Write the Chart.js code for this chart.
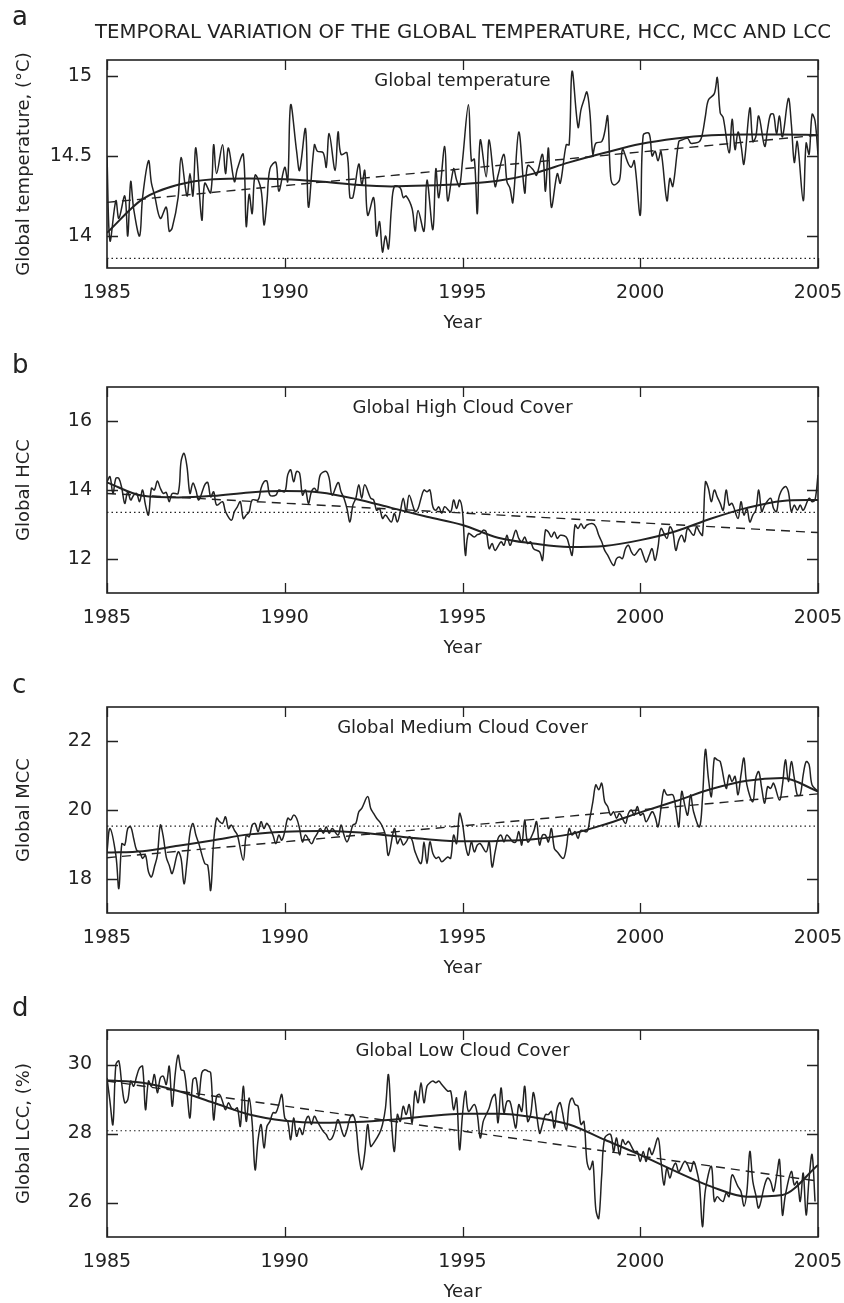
<!DOCTYPE html>
<html>
<head>
<meta charset="utf-8">
<script src="https://cdn.jsdelivr.net/npm/chart.js@4.4.1/dist/chart.umd.min.js"></script>
<style>
  html, body { margin: 0; padding: 0; background: #fff; }
  #page { position: relative; width: 844px; height: 1303px; overflow: hidden; background: #fff; }
  .panel { position: absolute; left: 0; width: 844px; }
</style>
</head>
<body>
<div id="page"></div>
<script>
// ---------------------------------------------------------------------------
// Data: monthly series as [months since Jan 1985, value]
// ---------------------------------------------------------------------------
const yearTicks = [1985, 1990, 1995, 2000, 2005];
const fitYears = [1985, 1986, 1987, 1988, 1989, 1990, 1991, 1992, 1993, 1994, 1995,
                  1996, 1997, 1998, 1999, 2000, 2001, 2002, 2003, 2004, 2005];

// Global temperature (°C)
const tempSeries = [
  [0,14.50],[1,13.97],[3,14.22],[4,14.11],[6,14.25],[7,14.00],[8,14.34],[9,14.17],[11,14.00],[12,14.24],
  [14,14.47],[15,14.33],[16,14.26],[18,14.11],[20,14.18],[21,14.03],[22,14.05],[24,14.24],[25,14.49],[27,14.25],
  [28,14.39],[29,14.25],[30,14.55],[32,14.10],[33,14.33],[35,14.27],[36,14.57],[37,14.39],[39,14.57],[40,14.39],
  [41,14.55],[43,14.34],[44,14.42],[46,14.51],[47,14.06],[48,14.26],[49,14.14],[50,14.38],[52,14.29],[53,14.07],
  [54,14.22],[55,14.42],[57,14.46],[58,14.28],[60,14.43],[61,14.34],[62,14.82],[64,14.53],[65,14.41],[67,14.67],
  [68,14.18],[70,14.57],[71,14.53],[73,14.52],[74,14.43],[75,14.64],[77,14.41],[78,14.65],[79,14.51],[81,14.52],
  [82,14.24],[83,14.24],[85,14.45],[86,14.32],[87,14.41],[88,14.13],[90,14.24],[91,14.00],[92,14.09],[93,13.90],
  [94,14.00],[95,13.92],[96,14.17],[97,14.31],[99,14.30],[100,14.24],[101,14.25],[103,14.17],[104,14.03],[105,14.16],
  [107,14.03],[108,14.35],[110,14.04],[111,14.42],[112,14.24],[114,14.56],[115,14.22],[117,14.42],[118,14.35],[119,14.31],
  [120,14.47],[122,14.82],[123,14.47],[124,14.48],[125,14.14],[126,14.60],[128,14.37],[129,14.60],[131,14.31],[132,14.38],
  [134,14.51],[135,14.34],[136,14.30],[137,14.21],[139,14.65],[141,14.27],[142,14.44],[144,14.41],[145,14.38],[147,14.51],
  [148,14.28],[149,14.55],[150,14.18],[152,14.39],[153,14.33],[155,14.57],[156,14.57],[157,15.03],[159,14.68],[160,14.79],
  [161,14.85],[162,14.90],[163,14.77],[164,14.51],[165,14.58],[167,14.59],[168,14.65],[169,14.75],[170,14.37],[171,14.32],
  [173,14.35],[174,14.54],[176,14.45],[177,14.43],[178,14.47],[180,14.13],[181,14.63],[183,14.64],[184,14.50],[185,14.53],
  [186,14.47],[187,14.53],[189,14.22],[190,14.36],[191,14.31],[193,14.59],[194,14.60],[196,14.61],[197,14.58],[198,14.58],
  [200,14.59],[201,14.64],[202,14.75],[203,14.85],[205,14.89],[206,14.99],[207,14.77],[208,14.74],[210,14.52],[211,14.73],
  [212,14.54],[213,14.65],[214,14.57],[215,14.45],[217,14.80],[218,14.59],[219,14.62],[220,14.75],[222,14.56],[223,14.67],
  [224,14.76],[225,14.76],[226,14.64],[227,14.75],[228,14.62],[230,14.86],[231,14.70],[232,14.46],[233,14.59],[235,14.22],
  [236,14.58],[237,14.51],[238,14.76],[239,14.72],[240,14.51]
];
const tempFit = [14.02, 14.23, 14.32, 14.355, 14.36, 14.355, 14.34, 14.32, 14.31, 14.315, 14.325,
                 14.345, 14.39, 14.46, 14.52, 14.575, 14.61, 14.63, 14.635, 14.635, 14.63];
const tempTrend = [14.21, 14.63];
const tempMean = 13.86;
const tempTicks = [14, 14.5, 15];

// Global high cloud cover (%)
const hccSeries = [
  [0,14.24],[1,14.39],[2,13.90],[3,14.34],[4,14.34],[5,14.05],[6,13.61],[7,13.95],[8,13.71],[9,13.85],
  [10,13.90],[11,13.66],[12,14.00],[13,13.56],[14,13.27],[15,14.05],[16,14.00],[17,14.26],[18,14.05],[19,13.90],
  [20,13.93],[21,13.66],[22,13.90],[24,13.90],[25,14.83],[26,15.07],[27,14.68],[28,13.90],[29,14.20],[30,14.00],
  [31,13.71],[33,14.15],[34,14.22],[35,13.80],[36,13.95],[37,13.56],[39,13.66],[40,13.37],[42,13.12],[43,13.37],
  [44,13.51],[45,13.66],[46,13.17],[47,13.27],[48,13.37],[49,13.71],[51,13.71],[52,14.05],[53,14.24],[54,14.26],
  [55,13.85],[57,13.85],[58,14.00],[60,13.95],[61,14.44],[62,14.59],[63,14.24],[64,14.54],[65,14.49],[66,13.85],
  [67,14.00],[68,13.61],[69,13.95],[70,14.05],[71,13.95],[72,14.44],[74,14.54],[75,14.34],[76,13.85],[78,14.22],
  [79,13.95],[80,13.76],[81,13.46],[82,13.07],[83,13.56],[84,13.76],[85,14.15],[86,13.76],[87,14.15],[89,13.76],
  [90,13.71],[91,13.41],[92,13.46],[93,13.17],[94,13.27],[96,13.07],[97,13.32],[98,13.07],[99,13.37],[100,13.76],
  [101,13.37],[102,13.85],[104,13.37],[105,13.46],[106,13.76],[107,14.00],[108,13.95],[109,14.00],[110,13.51],[111,13.41],
  [112,13.51],[113,13.32],[114,13.51],[116,13.37],[117,13.71],[118,13.46],[119,13.71],[120,13.37],[121,12.10],[122,12.73],
  [124,12.63],[125,12.70],[126,12.73],[127,12.83],[128,12.78],[129,12.29],[130,12.44],[131,12.24],[133,12.49],[134,12.39],
  [135,12.68],[136,12.39],[137,12.59],[138,12.83],[139,12.59],[140,12.49],[141,12.63],[142,12.44],[143,12.49],[144,12.29],
  [146,12.20],[147,11.95],[148,12.83],[149,12.78],[150,12.63],[151,12.78],[152,12.59],[153,12.68],[155,12.63],[156,12.39],
  [157,12.10],[158,12.98],[159,12.88],[160,13.02],[161,12.88],[162,12.98],[164,13.02],[165,12.93],[166,12.68],[167,12.49],
  [168,12.24],[169,12.10],[171,11.80],[172,12.00],[173,12.05],[174,12.00],[175,12.29],[176,12.39],[177,12.20],[178,12.10],
  [180,12.29],[181,12.10],[182,11.90],[183,12.10],[184,12.29],[185,11.95],[186,12.34],[187,12.88],[189,12.59],[190,12.93],
  [191,12.78],[192,12.24],[193,12.54],[194,12.68],[195,12.49],[196,12.88],[198,12.68],[199,12.93],[200,12.78],[201,12.68],
  [202,14.24],[203,14.05],[204,13.66],[205,14.00],[206,13.80],[207,13.61],[208,13.41],[209,14.00],[210,13.56],[211,13.61],
  [213,13.17],[214,13.66],[215,13.27],[216,13.46],[217,13.07],[218,13.27],[219,13.41],[220,14.00],[221,13.37],[222,13.56],
  [224,13.76],[225,13.46],[226,13.37],[227,13.85],[229,14.10],[230,13.95],[231,13.37],[232,13.56],[233,13.41],[234,13.56],
  [235,13.41],[237,13.76],[238,13.66],[239,13.71],[240,14.44]
];
const hccFit = [14.22, 13.83, 13.78, 13.83, 13.93, 13.97, 13.93, 13.74, 13.48, 13.22, 12.98,
                12.61, 12.44, 12.34, 12.37, 12.54, 12.80, 13.17, 13.48, 13.68, 13.71];
const hccTrend = [13.90, 12.76];
const hccMean = 13.35;
const hccTicks = [12, 14, 16];

// Global medium cloud cover (%)
const mccSeries = [
  [0,18.78],[1,19.46],[3,18.68],[4,17.71],[5,19.02],[6,18.98],[7,19.46],[8,19.51],[9,19.17],[10,18.83],
  [11,18.78],[12,18.59],[13,18.68],[14,18.20],[15,18.05],[16,18.34],[17,18.68],[18,19.56],[19,19.22],[20,18.63],
  [21,18.39],[22,18.15],[24,18.78],[25,18.59],[26,17.85],[27,18.49],[28,19.32],[29,19.61],[30,19.27],[31,19.02],
  [33,18.44],[34,18.39],[35,17.66],[36,19.07],[37,19.76],[38,19.66],[39,19.61],[40,19.80],[41,19.46],[42,19.56],
  [43,19.41],[44,19.27],[46,18.54],[47,19.27],[48,19.22],[49,19.56],[50,19.61],[51,19.37],[52,19.66],[53,19.46],
  [54,19.61],[56,19.27],[57,19.02],[58,19.27],[59,19.12],[60,19.37],[61,19.76],[62,19.71],[63,19.85],[64,19.76],
  [65,19.46],[66,19.07],[67,19.27],[69,19.02],[70,19.17],[71,19.32],[72,19.46],[73,19.32],[74,19.51],[75,19.32],
  [76,19.46],[78,19.27],[79,19.56],[80,19.27],[81,19.07],[82,19.27],[83,19.56],[84,19.61],[85,19.95],[86,20.05],
  [88,20.39],[89,20.05],[90,19.90],[91,19.76],[92,19.66],[93,19.51],[94,19.27],[95,18.68],[97,19.46],[98,19.02],
  [99,19.17],[100,18.98],[101,19.07],[102,19.22],[103,19.12],[104,18.78],[106,18.44],[107,19.07],[108,18.44],[109,19.07],
  [110,18.73],[111,18.59],[112,18.63],[113,18.49],[115,18.63],[116,18.59],[117,19.27],[118,19.02],[119,19.90],[120,19.60],
  [121,18.98],[122,18.68],[123,19.07],[124,18.78],[125,18.98],[126,19.02],[128,18.78],[129,19.07],[130,18.34],[131,18.78],
  [132,19.17],[133,19.27],[134,19.07],[135,19.27],[137,19.07],[138,19.07],[139,19.37],[140,18.98],[141,19.71],[142,19.07],
  [144,19.37],[145,19.66],[146,18.98],[147,19.27],[148,19.27],[149,19.07],[150,19.46],[151,18.88],[152,18.78],[154,18.59],
  [155,18.88],[156,19.46],[157,19.27],[158,19.37],[159,19.17],[160,19.41],[162,19.37],[163,19.76],[164,20.24],[165,20.73],
  [166,20.59],[167,20.78],[168,20.24],[169,20.10],[170,19.85],[171,19.95],[172,19.76],[173,19.90],[175,19.61],[176,19.90],
  [177,20.00],[178,19.85],[179,20.10],[180,19.85],[181,19.90],[182,19.66],[184,19.95],[185,19.80],[186,19.51],[187,20.05],
  [188,20.59],[189,20.44],[191,20.44],[192,20.05],[193,19.51],[194,20.54],[195,20.15],[196,19.85],[197,20.44],[198,19.95],
  [200,19.51],[201,20.34],[202,21.76],[203,20.93],[204,20.39],[205,21.51],[206,21.46],[207,21.41],[209,20.63],[210,21.02],
  [211,20.83],[212,20.98],[213,20.44],[214,21.02],[215,21.51],[216,20.73],[218,20.24],[219,20.93],[220,21.12],[221,20.63],
  [222,20.20],[223,20.68],[224,20.63],[225,20.78],[227,20.29],[228,20.73],[229,21.46],[230,20.83],[231,21.41],[232,20.93],
  [233,20.44],[234,20.44],[235,21.02],[236,21.41],[237,21.32],[238,20.73],[240,20.54]
];
const mccFit = [18.76, 18.80, 18.96, 19.12, 19.29, 19.37, 19.39, 19.35, 19.25, 19.15, 19.09,
                19.10, 19.15, 19.29, 19.58, 19.93, 20.26, 20.61, 20.85, 20.93, 20.54];
const mccTrend = [18.61, 20.47];
const mccMean = 19.53;
const mccTicks = [18, 20, 22];

// Global low cloud cover (%)
const lccSeries = [
  [0,29.61],[1,28.93],[2,28.26],[3,30.00],[4,30.10],[5,29.42],[6,28.89],[7,28.98],[8,29.52],[9,29.37],
  [10,29.66],[11,29.90],[12,29.95],[13,28.69],[14,29.52],[15,29.37],[16,29.71],[17,29.18],[18,29.61],[19,29.66],
  [20,29.42],[21,29.95],[22,28.79],[23,29.71],[24,30.27],[25,29.85],[26,29.81],[27,29.18],[28,28.45],[29,29.56],
  [30,29.61],[31,29.08],[32,29.76],[33,29.85],[34,29.81],[35,29.76],[36,28.40],[37,29.08],[38,29.13],[39,28.93],
  [40,28.69],[41,28.89],[42,28.74],[43,28.69],[44,28.74],[45,28.21],[46,29.37],[47,28.35],[48,29.03],[49,28.31],
  [50,26.95],[51,27.82],[52,28.26],[53,27.58],[54,28.21],[55,28.35],[56,28.60],[57,28.60],[58,28.84],[59,29.13],
  [60,28.45],[61,28.35],[62,27.82],[63,28.45],[64,27.92],[65,28.16],[66,27.97],[67,28.35],[68,28.50],[69,28.26],
  [70,28.50],[71,28.35],[73,28.06],[74,27.97],[75,27.82],[76,27.87],[77,28.11],[78,28.40],[80,27.92],[81,28.11],
  [82,28.45],[83,28.55],[84,28.26],[85,27.38],[86,26.95],[87,27.43],[88,28.26],[89,27.63],[90,27.72],[92,28.01],
  [93,28.26],[94,28.74],[95,29.71],[96,28.35],[97,27.48],[98,28.55],[99,28.35],[100,28.79],[101,28.55],[102,28.84],
  [103,28.31],[104,29.23],[105,28.89],[106,29.47],[107,28.89],[108,29.37],[109,29.47],[110,29.52],[111,29.47],[112,29.52],
  [113,29.42],[115,29.23],[116,29.23],[117,28.69],[118,29.03],[119,27.53],[120,28.55],[121,29.23],[122,28.64],[124,28.84],
  [125,28.55],[126,27.87],[127,28.35],[128,28.55],[129,28.74],[130,29.03],[131,29.13],[132,28.31],[133,29.32],[134,28.60],
  [135,28.93],[136,28.93],[137,28.55],[138,28.16],[139,28.84],[140,28.64],[141,29.37],[142,28.35],[143,28.55],[144,29.18],
  [146,28.01],[147,28.26],[148,28.55],[149,28.55],[150,28.64],[151,28.16],[152,28.74],[153,28.89],[155,28.11],[156,28.84],
  [157,29.03],[158,28.84],[159,28.79],[160,28.26],[161,28.35],[162,27.19],[163,26.95],[164,27.19],[165,25.80],[166,25.54],
  [167,26.80],[168,27.87],[170,27.97],[171,27.48],[172,27.87],[173,27.38],[174,27.82],[175,27.68],[176,27.77],[178,27.48],
  [179,27.48],[180,27.19],[181,27.48],[182,27.19],[183,27.58],[184,27.39],[186,27.87],[187,27.19],[188,26.51],[189,27.00],
  [190,26.71],[191,27.00],[192,27.14],[193,26.90],[195,27.19],[196,27.09],[197,26.90],[198,27.19],[199,26.95],[200,26.51],
  [201,25.30],[202,26.37],[204,27.05],[205,26.03],[206,26.17],[207,26.08],[208,26.03],[209,26.27],[210,26.17],[211,26.80],
  [213,26.46],[214,26.32],[215,25.89],[216,26.32],[217,27.48],[218,26.61],[219,26.22],[220,25.84],[222,26.51],[223,26.71],
  [224,26.61],[225,26.32],[226,26.75],[227,27.24],[228,25.64],[229,26.22],[231,26.90],[232,26.51],[233,26.61],[234,26.03],
  [235,26.85],[236,25.64],[237,26.71],[238,27.39],[239,26.03]
];
const lccFit = [29.54, 29.47, 29.23, 28.89, 28.55, 28.37, 28.31, 28.33, 28.40, 28.50, 28.57,
                28.57, 28.47, 28.26, 27.82, 27.38, 26.90, 26.46, 26.17, 26.22, 27.09];
const lccTrend = [29.52, 26.62];
const lccMean = 28.08;
const lccTicks = [26, 28, 30];

const heading = 'TEMPORAL VARIATION OF THE GLOBAL TEMPERATURE, HCC, MCC AND LCC';

// ---------------------------------------------------------------------------
// Panel definitions (text + data), then layout
// ---------------------------------------------------------------------------
const panels = [
  { letter: 'a', name: 'Global temperature', yTitle: 'Global temperature, (°C)',
    series: tempSeries, fit: tempFit, trend: tempTrend, mean: tempMean, ticks: tempTicks, min: 13.8, max: 15.1 },
  { letter: 'b', name: 'Global High Cloud Cover', yTitle: 'Global HCC',
    series: hccSeries, fit: hccFit, trend: hccTrend, mean: hccMean, ticks: hccTicks, min: 11, max: 17 },
  { letter: 'c', name: 'Global Medium Cloud Cover', yTitle: 'Global MCC',
    series: mccSeries, fit: mccFit, trend: mccTrend, mean: mccMean, ticks: mccTicks, min: 17, max: 23 },
  { letter: 'd', name: 'Global Low Cloud Cover', yTitle: 'Global LCC, (%)',
    series: lccSeries, fit: lccFit, trend: lccTrend, mean: lccMean, ticks: lccTicks, min: 25, max: 31 }
];

// canvas placement: [canvas top on page, canvas height, plot top inside canvas, plot bottom inside canvas]
const frames = [
  [0, 340, 60, 268],
  [330, 340, 57, 263],
  [650, 340, 57, 263],
  [960, 343, 70, 277]
];

const INK = '#222222';
const FAMILY = '"DejaVu Sans", "Liberation Sans", sans-serif';
const X_AXIS_H = 66;
const Y_AXIS_W = 107;
const RIGHT_PAD = 26;

Chart.defaults.font.family = FAMILY;
Chart.defaults.color = INK;

// Box around the plot, inward tick marks, panel letter, inner label, heading
const decor = {
  id: 'decor',
  afterDraw(chart, args, o) {
    const { ctx, chartArea: a, scales: { x, y } } = chart;
    ctx.save();
    ctx.strokeStyle = INK;
    ctx.lineWidth = 1.6;
    ctx.strokeRect(a.left, a.top, a.right - a.left, a.bottom - a.top);

    ctx.lineWidth = 1.3;
    ctx.beginPath();
    x.ticks.forEach(t => {
      const px = Math.round(x.getPixelForValue(t.value)) + 0.5;
      ctx.moveTo(px, a.bottom); ctx.lineTo(px, a.bottom - 10);
      ctx.moveTo(px, a.top); ctx.lineTo(px, a.top + 10);
    });
    y.ticks.forEach(t => {
      const py = Math.round(y.getPixelForValue(t.value)) + 0.5;
      ctx.moveTo(a.left, py); ctx.lineTo(a.left + 11, py);
      ctx.moveTo(a.right, py); ctx.lineTo(a.right - 11, py);
    });
    ctx.stroke();

    ctx.fillStyle = INK;
    ctx.font = '18px ' + FAMILY;
    ctx.textAlign = 'center';
    ctx.textBaseline = 'middle';
    ctx.fillText(o.name, (a.left + a.right) / 2, a.top + 21);

    ctx.font = '26px ' + FAMILY;
    ctx.textAlign = 'left';
    ctx.textBaseline = 'alphabetic';
    ctx.fillText(o.letter, 12, o.heading ? 25 : a.top - 14);

    if (o.heading) {
      ctx.font = '20px ' + FAMILY;
      const w = ctx.measureText(o.heading).width;
      const sx = Math.min(1, 736 / w);
      ctx.translate(463, 33);
      ctx.scale(sx, 1);
      ctx.textAlign = 'center';
      ctx.textBaseline = 'middle';
      ctx.fillText(o.heading, 0, 0);
    }
    ctx.restore();
  }
};

const page = document.getElementById('page');

panels.forEach((p, i) => {
  const [top, height, plotTop, plotBottom] = frames[i];
  const wrap = document.createElement('div');
  wrap.className = 'panel';
  wrap.style.top = top + 'px';
  wrap.style.height = height + 'px';
  const cv = document.createElement('canvas');
  cv.width = 844; cv.height = height;
  cv.style.width = '844px'; cv.style.height = height + 'px';
  wrap.appendChild(cv);
  page.appendChild(wrap);

  const monthly = p.series.map(([m, v]) => ({ x: 1985 + m / 12, y: v }));
  const fitted = fitYears.map((yr, k) => ({ x: yr, y: p.fit[k] }));
  const trend = [{ x: 1985, y: p.trend[0] }, { x: 2005, y: p.trend[1] }];
  const mean = [{ x: 1985, y: p.mean }, { x: 2005, y: p.mean }];

  new Chart(cv, {
    type: 'line',
    data: {
      datasets: [
        { data: monthly, borderColor: INK, borderWidth: 1.5, pointRadius: 0, tension: 0.35 },
        { data: fitted, borderColor: INK, borderWidth: 2.0, pointRadius: 0, cubicInterpolationMode: 'monotone' },
        { data: trend, borderColor: INK, borderWidth: 1.4, pointRadius: 0, borderDash: [9, 6] },
        { data: mean, borderColor: INK, borderWidth: 1.2, pointRadius: 0, borderDash: [1.5, 3] }
      ]
    },
    options: {
      responsive: false,
      animation: false,
      devicePixelRatio: 1,
      events: [],
      layout: { padding: { top: plotTop, bottom: height - plotBottom - X_AXIS_H, left: 0, right: RIGHT_PAD } },
      plugins: {
        legend: { display: false },
        tooltip: { enabled: false },
        decor: { letter: p.letter, name: p.name, heading: i === 0 ? heading : null }
      },
      scales: {
        x: {
          type: 'linear', position: 'bottom', min: 1985, max: 2005,
          afterBuildTicks: s => { s.ticks = yearTicks.map(v => ({ value: v })); },
          afterFit: s => { s.height = X_AXIS_H; s.paddingLeft = 0; s.paddingRight = 0; },
          grid: { display: false, drawTicks: false },
          border: { display: false },
          ticks: { padding: 14, color: INK, font: { size: 19 }, autoSkip: false, maxRotation: 0,
                   callback: v => String(v) },
          title: { display: true, text: 'Year', color: INK, font: { size: 18 }, padding: { top: 0, bottom: 0 } }
        },
        y: {
          type: 'linear', position: 'left', min: p.min, max: p.max,
          afterBuildTicks: s => { s.ticks = p.ticks.map(v => ({ value: v })); },
          afterFit: s => { s.width = Y_AXIS_W; s.paddingTop = 0; s.paddingBottom = 0; },
          grid: { display: false, drawTicks: false },
          border: { display: false },
          ticks: { padding: 15, color: INK, font: { size: 19 }, callback: v => String(v) },
          title: { display: true, text: p.yTitle, color: INK, font: { size: 18 }, padding: { top: 14, bottom: 0 } }
        }
      }
    },
    plugins: [decor]
  });
});
</script>
</body>
</html>
